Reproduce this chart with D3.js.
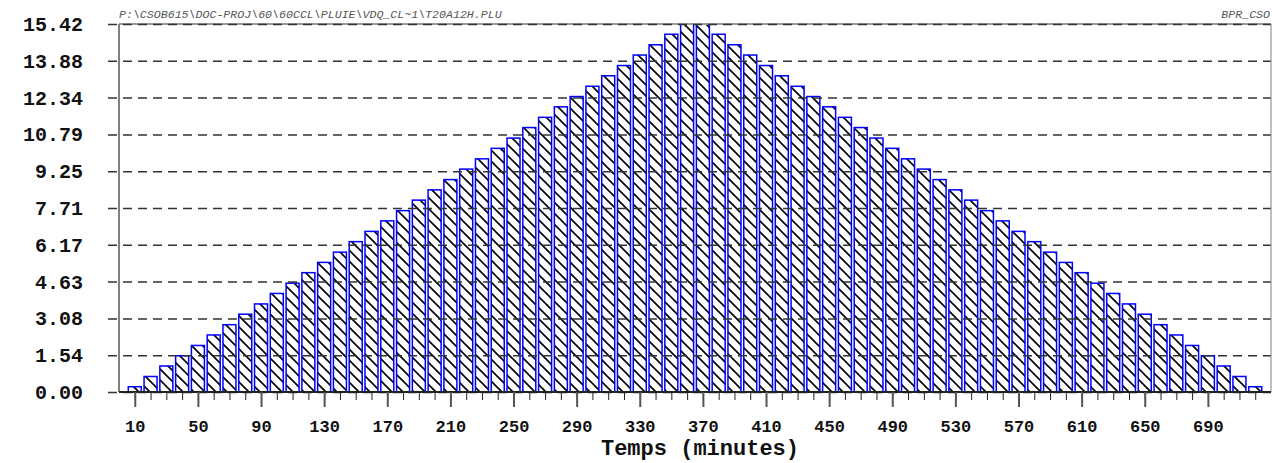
<!DOCTYPE html>
<html>
<head>
<meta charset="utf-8">
<script src="https://cdn.jsdelivr.net/npm/d3@7"></script>
<style>
  body { margin: 0; background: #fff; }
  svg { display: block; font-family: "Liberation Mono", "Courier New", monospace; }
</style>
</head>
<body>
<svg id="chart" width="1272" height="463"></svg>
<script>
// hyetogram data (minutes / intensity)
const minutes = [10, 20, 30, 40, 50, 60, 70, 80, 90, 100, 110, 120, 130, 140, 150, 160, 170, 180,
  190, 200, 210, 220, 230, 240, 250, 260, 270, 280, 290, 300, 310, 320, 330, 340, 350, 360,
  370, 380, 390, 400, 410, 420, 430, 440, 450, 460, 470, 480, 490, 500, 510, 520, 530, 540,
  550, 560, 570, 580, 590, 600, 610, 620, 630, 640, 650, 660, 670, 680, 690, 700, 710, 720]
const intensity = [0.22, 0.65, 1.09, 1.52, 1.95, 2.39, 2.82, 3.26, 3.69, 4.13, 4.56, 5.00,
  5.43, 5.86, 6.30, 6.73, 7.17, 7.60, 8.04, 8.47, 8.90, 9.34, 9.77, 10.21,
  10.64, 11.08, 11.51, 11.95, 12.38, 12.81, 13.25, 13.68, 14.12, 14.55, 14.99, 15.42,
  15.42, 14.99, 14.55, 14.12, 13.68, 13.25, 12.81, 12.38, 11.95, 11.51, 11.08, 10.64,
  10.21, 9.77, 9.34, 8.90, 8.47, 8.04, 7.60, 7.17, 6.73, 6.30, 5.86, 5.43,
  5.00, 4.56, 4.13, 3.69, 3.26, 2.82, 2.39, 1.95, 1.52, 1.09, 0.65, 0.22]
const yTicks = [0, 1.542, 3.084, 4.626, 6.168, 7.71, 9.252, 10.794, 12.336, 13.878, 15.42]
const xLabels = [10, 50, 90, 130, 170, 210, 250, 290, 330, 370, 410, 450, 490, 530, 570, 610, 650, 690]
const filePath = 'P:\\CSOB615\\DOC-PROJ\\60\\60CCL\\PLUIE\\VDQ_CL~1\\T20A12H.PLU'
const tag = 'BPR_CSO'
const xTitle = 'Temps (minutes)'

const pLeft = 119, pRight = 1271, pTop = 24, pBottom = 392

const svg = d3.select('#chart')
const x = d3.scaleLinear().domain([0, 730]).range([pLeft, pRight])
const y = d3.scaleLinear().domain([0, 15.42]).range([pBottom, pTop])

// hatch pattern for the bars
const pat = svg.append('defs').append('pattern')
  .attr('id', 'hatch')
  .attr('patternUnits', 'userSpaceOnUse')
  .attr('width', 11)
  .attr('height', 11)
pat.append('rect').attr('width', 11).attr('height', 11).attr('fill', '#fff')
pat.append('path')
  .attr('d', 'M0,0 L11,11 M-1,10 L1,12 M10,-1 L12,1')
  .attr('stroke', '#000')
  .attr('stroke-width', 1.6)

// bars
svg.append('g')
  .selectAll('rect')
  .data(minutes)
  .enter()
  .append('rect')
  .attr('x', d => x(d) - 6.5)
  .attr('width', 13)
  .attr('y', (d, i) => y(intensity[i]))
  .attr('height', (d, i) => y(0) - y(intensity[i]))
  .attr('fill', 'url(#hatch)')
  .attr('stroke', '#0000ff')
  .attr('stroke-width', 1.5)

// top frame line (gray under the dashes)
svg.append('line')
  .attr('x1', pLeft).attr('x2', pRight)
  .attr('y1', y(15.42)).attr('y2', y(15.42))
  .attr('stroke', '#999').attr('stroke-width', 2)

// y axis with dashed grid
const yAxis = svg.append('g')
  .attr('transform', 'translate(108,0)')
  .call(d3.axisLeft(y).tickValues(yTicks).tickSize(-(pRight - 108)).tickPadding(25)
    .tickFormat(d => d.toFixed(2)))
yAxis.select('.domain').remove()
yAxis.selectAll('line')
  .attr('stroke', '#333')
  .attr('stroke-width', 1.5)
  .attr('stroke-dasharray', '9,6')
yAxis.selectAll('text')
  .attr('font-size', '20px')
  .attr('font-weight', 'bold')
  .attr('font-family', '"Liberation Mono", "Courier New", monospace')
  .attr('fill', '#111')

// frame: left axis, right border, baseline
svg.append('line')
  .attr('x1', pLeft).attr('x2', pLeft).attr('y1', pTop).attr('y2', pBottom)
  .attr('stroke', '#808080').attr('stroke-width', 2)
svg.append('line')
  .attr('x1', pRight).attr('x2', pRight).attr('y1', pTop).attr('y2', pBottom)
  .attr('stroke', '#808080').attr('stroke-width', 1)
svg.append('line')
  .attr('x1', pLeft).attr('x2', pRight).attr('y1', pBottom).attr('y2', pBottom)
  .attr('stroke', '#222').attr('stroke-width', 2)

// minor x ticks (every bar)
const xMinor = svg.append('g')
  .attr('transform', 'translate(0,' + pBottom + ')')
  .call(d3.axisBottom(x).tickValues(minutes).tickSize(8).tickFormat(''))
xMinor.select('.domain').remove()
xMinor.selectAll('line').attr('stroke', '#222').attr('stroke-width', 1)

// major x ticks with labels
const xAxis = svg.append('g')
  .attr('transform', 'translate(0,' + pBottom + ')')
  .call(d3.axisBottom(x).tickValues(xLabels).tickSize(15).tickPadding(13))
xAxis.select('.domain').remove()
xAxis.selectAll('line').attr('stroke', '#555').attr('stroke-width', 2)
xAxis.selectAll('text')
  .attr('font-size', '17px')
  .attr('font-weight', 'bold')
  .attr('font-family', '"Liberation Mono", "Courier New", monospace')
  .attr('fill', '#111')

// axis title
svg.append('text')
  .attr('x', 700)
  .attr('y', 455)
  .attr('text-anchor', 'middle')
  .attr('font-size', '22px')
  .attr('font-weight', 'bold')
  .attr('fill', '#111')
  .text(xTitle)

// header texts
svg.append('text')
  .attr('x', pLeft)
  .attr('y', 18)
  .attr('font-size', '11.6px')
  .attr('font-style', 'italic')
  .attr('fill', '#555')
  .text(filePath)
svg.append('text')
  .attr('x', 1270)
  .attr('y', 18)
  .attr('text-anchor', 'end')
  .attr('font-size', '11.6px')
  .attr('font-style', 'italic')
  .attr('fill', '#555')
  .text(tag)
</script>
</body>
</html>
